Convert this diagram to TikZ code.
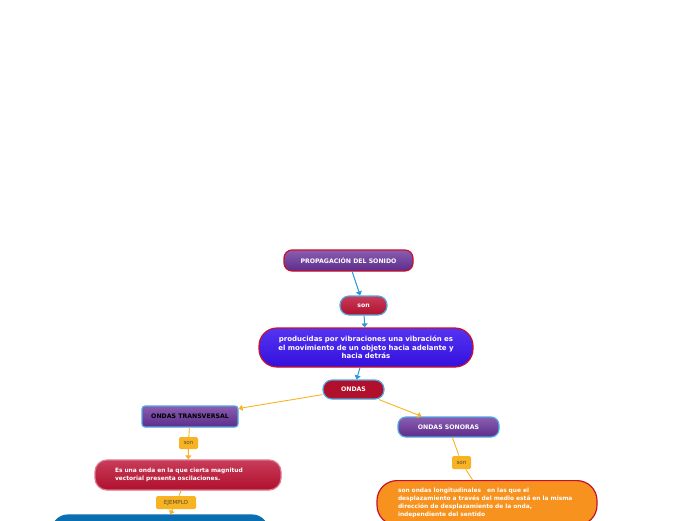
\documentclass[tikz,border=0pt]{standalone}
\usepackage{fontspec}
\setmainfont{DejaVu Sans}
\usetikzlibrary{arrows.meta}

\definecolor{carmin}{HTML}{B0102C}
\definecolor{carminclaro}{HTML}{C83C5A}
\definecolor{borderojo}{HTML}{C8102E}
\definecolor{moradoalto}{HTML}{8A5EB2}
\definecolor{moradobajo}{HTML}{5C2C8A}
\definecolor{violetaalto}{HTML}{5434F2}
\definecolor{violetabajo}{HTML}{3410DC}
\definecolor{celeste}{HTML}{52A8E2}
\definecolor{flechazul}{HTML}{2A98D6}
\definecolor{ambar}{HTML}{F8B323}
\definecolor{naranja}{HTML}{F7921E}
\definecolor{azulcaja}{HTML}{0A6EB2}
\definecolor{textoetiq}{HTML}{5A4A30}

\begin{document}
\begin{tikzpicture}[x=1pt, y=-1pt,
  caja/.style={rounded corners=8pt, line width=1.2pt, text=white,
    font=\fontsize{6.2}{8}\selectfont\bfseries, inner sep=0pt},
  cajamorada/.style={caja, top color=moradoalto, bottom color=moradobajo},
  cajaroja/.style={caja, top color=carminclaro, bottom color=carmin},
  texto/.style={font=\fontsize{5.9}{8.3}\selectfont\bfseries},
  etiqueta/.style={fill=ambar, rounded corners=1.5pt, text=textoetiq,
    font=\fontsize{5.6}{6}\selectfont, inner sep=0pt},
  flechaazul/.style={-{Triangle[width=6pt, length=4pt]}, flechazul, line width=1pt},
  flechaambar/.style={-{Triangle[width=6pt, length=4pt]}, ambar, line width=0.9pt},
  lineaambar/.style={ambar, line width=0.9pt}]

  % page frame
  \useasboundingbox (0,0) rectangle (696,520);
  \clip (0,0) rectangle (696,520);

  % upper chain
  \node[cajamorada, draw=borderojo, minimum width=129pt, minimum height=21pt]
    (propagacion) at (348.5,260.5) {PROPAGACIÓN DEL SONIDO};
  \node[cajaroja, draw=celeste, rounded corners=9pt, minimum width=47pt, minimum height=19pt]
    (son) at (363.5,305.5) {son};
  \node[caja, font=\fontsize{7}{8.6}\selectfont\bfseries, draw=borderojo,
    rounded corners=18pt, top color=violetaalto, bottom color=violetabajo,
    minimum width=214pt, minimum height=39pt, text width=190pt, align=center]
    (producidas) at (366,347.5)
    {producidas por vibraciones una vibración es\\ el movimiento de un objeto hacia adelante y\\ hacia detrás};
  \node[caja, fill=carmin, draw=celeste, rounded corners=9pt, minimum width=61pt, minimum height=19pt]
    (ondas) at (353.5,389.5) {ONDAS};

  % left branch
  \node[cajamorada, draw=celeste, text=black, rounded corners=3pt,
    minimum width=96pt, minimum height=21pt]
    (transversal) at (190,416.5) {ONDAS TRANSVERSAL};
  \node[etiqueta, minimum width=19pt, minimum height=12pt] (son1) at (188.5,443) {son};
  \node[cajaroja, texto, draw=carminclaro!70, rounded corners=12pt,
    minimum width=186pt, minimum height=30pt, text width=146pt, align=left]
    (onda) at (188,475)
    {Es una onda en la que cierta magnitud\\ vectorial presenta oscilaciones.};
  \node[etiqueta, minimum width=40pt, minimum height=13pt] (ejemplo) at (176,502.5) {EJEMPLO};
  \node[caja, fill=azulcaja, draw=azulcaja, rounded corners=16pt,
    minimum width=216pt, minimum height=40pt]
    (ejemplocaja) at (160,535) {};

  % right branch
  \node[cajamorada, draw=celeste, minimum width=101pt, minimum height=20pt]
    (sonoras) at (448.5,427) {ONDAS SONORAS};
  \node[etiqueta, minimum width=19pt, minimum height=13pt] (son2) at (461.5,462.5) {son};
  \node[caja, texto, fill=naranja, draw=borderojo, rounded corners=20pt,
    minimum width=220pt, text width=178pt, inner xsep=21pt, inner ysep=7pt,
    align=left, anchor=north]
    (longitudinal) at (487,480)
    {son ondas longitudinales \ \ en las que el\\ desplazamiento a través del medio está en la misma\\ dirección de desplazamiento de la onda,\\ independiente del sentido};

  % connectors
  \draw[flechaazul] (propagacion) -- (son);
  \draw[flechaazul] (son) -- (producidas);
  \draw[flechaazul] (producidas) -- (ondas);
  \draw[flechaambar] (ondas) -- (transversal);
  \draw[flechaambar] (ondas) -- (sonoras);
  \draw[lineaambar] (transversal) -- (son1);
  \draw[flechaambar] (son1) -- (onda);
  \draw[lineaambar] (onda) -- (ejemplo);
  \draw[flechaambar] (ejemplo) -- (ejemplocaja);
  \draw[lineaambar] (sonoras) -- (son2);
  \draw[lineaambar] (son2) -- (longitudinal);

\end{tikzpicture}
\end{document}
